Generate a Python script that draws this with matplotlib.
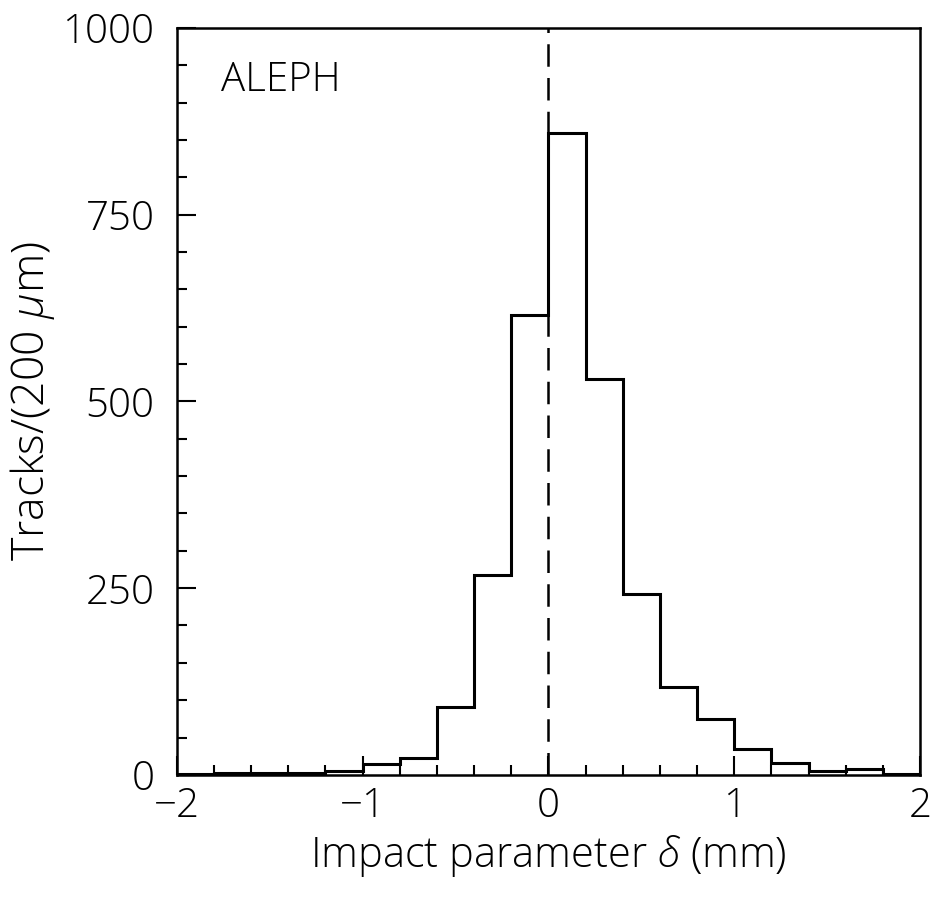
import matplotlib
matplotlib.use("Agg")
import matplotlib.pyplot as plt
import numpy as np
from matplotlib.ticker import MultipleLocator

plt.rcParams['font.family'] = ['Open Sans', 'DejaVu Sans']
plt.rcParams['font.weight'] = 'light'
plt.rcParams['axes.labelweight'] = 'light'
plt.rcParams['mathtext.fontset'] = 'custom'
plt.rcParams['mathtext.it'] = 'Open Sans:italic:light'
plt.rcParams['mathtext.rm'] = 'Open Sans:light'

# bin edges (mm) and tracks per 200 um
bin_edges = [-2.0, -1.8, -1.6, -1.4, -1.2, -1.0, -0.8, -0.6, -0.4, -0.2, 0.0,
             0.2, 0.4, 0.6, 0.8, 1.0, 1.2, 1.4, 1.6, 1.8, 2.0]
tracks = [1, 2, 2, 2, 5, 15, 23, 91, 268, 615, 860,
          530, 242, 117, 75, 34, 16, 5, 8, 1]

fig = plt.figure(figsize=(9.35, 9.01), dpi=100)
ax = fig.add_axes([0.189, 0.140, 0.795, 0.829])

ax.stairs(tracks, bin_edges, color='black', linewidth=2.2)
ax.axvline(0, color='black', linewidth=1.8, linestyle=(0, (9, 4.5)))

ax.set_xlim(-2, 2)
ax.set_ylim(0, 1000)
ax.xaxis.set_major_locator(MultipleLocator(1))
ax.xaxis.set_minor_locator(MultipleLocator(0.2))
ax.yaxis.set_major_locator(MultipleLocator(250))
ax.yaxis.set_minor_locator(MultipleLocator(50))
ax.tick_params(which='both', direction='in', top=False, right=False, width=1.5)
ax.tick_params(which='major', length=14, labelsize=29, pad=16)
ax.tick_params(axis='x', which='major', pad=8)
ax.tick_params(which='minor', length=7)
for s in ax.spines.values():
    s.set_linewidth(1.8)

ax.set_xlabel(r'Impact parameter $\delta$ (mm)', fontsize=30, labelpad=4)
ax.set_ylabel(r'Tracks/(200 $\mu$m)', fontsize=32, labelpad=4)
ax.text(0.06, 0.93, 'ALEPH', transform=ax.transAxes, fontsize=29, va='center')

plt.savefig('out.png', dpi=100)
